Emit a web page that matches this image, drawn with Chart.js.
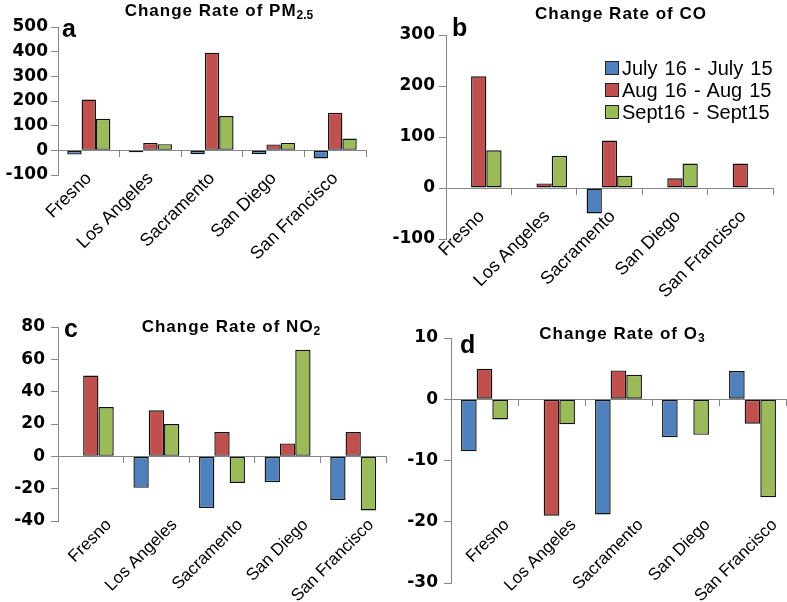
<!DOCTYPE html>
<html>
<head>
<meta charset="utf-8">
<script src="https://cdn.jsdelivr.net/npm/chart.js@4.4.0/dist/chart.umd.min.js"></script>
<style>
  html, body { margin: 0; padding: 0; background: #fff; }
  body { width: 787px; height: 602px; position: relative; overflow: hidden; font-family: "Liberation Sans", Arial, sans-serif; color: #000; }
  .panel { position: absolute; }
  .title { position: absolute; font-weight: bold; font-size: 17px; line-height: 20px; letter-spacing: 1px; white-space: nowrap; transform: translateX(-50%); }
  .title sub { font-size: 12px; line-height: 0; vertical-align: -3px; letter-spacing: 0; }
  .letter { position: absolute; font-weight: bold; font-size: 25px; line-height: 25px; }
  #legend { position: absolute; left: 605px; top: 57px; }
  .lrow { display: flex; align-items: center; height: 22px; font-size: 20px; line-height: 22px; word-spacing: 1.5px; white-space: nowrap; }
  .lbox { width: 14px; height: 14px; border: 1px solid #222; margin-right: 3px; box-sizing: border-box; }
</style>
</head>
<body>
<div class="panel" style="left:0;top:0;width:393px;height:300px"><canvas id="chA"></canvas></div>
<div class="panel" style="left:393px;top:0;width:394px;height:300px"><canvas id="chB"></canvas></div>
<div class="panel" style="left:0;top:300px;width:393px;height:302px"><canvas id="chC"></canvas></div>
<div class="panel" style="left:393px;top:300px;width:394px;height:302px"><canvas id="chD"></canvas></div>

<div class="title" style="left:219px;top:1px">Change Rate of PM<sub>2.5</sub></div>
<div class="title" style="left:621px;top:4px">Change Rate of CO</div>
<div class="title" style="left:231px;top:317px">Change Rate of NO<sub>2</sub></div>
<div class="title" style="left:622px;top:324px">Change Rate of O<sub>3</sub></div>

<div class="letter" style="left:62px;top:16px">a</div>
<div class="letter" style="left:452px;top:15px">b</div>
<div class="letter" style="left:64px;top:316px">c</div>
<div class="letter" style="left:460px;top:332px">d</div>

<div id="legend"></div>

<script>
// ---- data ----
const cities = ['Fresno', 'Los Angeles', 'Sacramento', 'San Diego', 'San Francisco'];
const seriesNames = ['July 16 - July 15', 'Aug 16 - Aug 15', 'Sept16 - Sept15'];
const seriesColors = ['#4F81BD', '#C0504D', '#9BBB59'];

const pm25July = [-17, -8, -16, -16, -33];
const pm25Aug  = [206, 30, 396, 24, 152];
const pm25Sept = [128, 25, 139, 30, 48];
const pm25Ticks = [-100, 0, 100, 200, 300, 400, 500];

const coJuly = [0, 0, -50, 0, 0];
const coAug  = [219, 9, 93, 19, 48];
const coSept = [74, 63, 24, 48, 0];
const coTicks = [-100, 0, 100, 200, 300];

const no2July = [0, -19.5, -32, -16, -27];
const no2Aug  = [50, 28.5, 15, 8, 15];
const no2Sept = [30.5, 20, -16.5, 66, -33.5];
const no2Ticks = [-40, -20, 0, 20, 40, 60, 80];

const o3July = [-8.5, 0, -18.8, -6.2, 4.6];
const o3Aug  = [5, -19, 4.7, 0, -4];
const o3Sept = [-3.3, -4.1, 4, -5.8, -16];
const o3Ticks = [-30, -20, -10, 0, 10];

// ---- chart builder ----
const AXIS_GRAY = '#868686';

function buildChart(canvasId, series, ticks, lay) {
  const datasets = series.map((vals, i) => ({
    label: seriesNames[i],
    data: vals,
    backgroundColor: seriesColors[i],
    borderColor: '#111',
    borderWidth: 1.4,
    borderSkipped: false,
    categoryPercentage: 0.7,
    barPercentage: 1.0
  }));
  return new Chart(document.getElementById(canvasId), {
    type: 'bar',
    data: { labels: cities, datasets },
    options: {
      responsive: true,
      maintainAspectRatio: false,
      animation: false,
      layout: { padding: { left: 0, right: lay.right, top: lay.top, bottom: lay.bottom } },
      plugins: { legend: { display: false }, tooltip: { enabled: false }, title: { display: false } },
      scales: {
        x: {
          type: 'category',
          axis: 'x',
          position: { y: ticks[0] },
          offset: true,
          grid: { display: false, offset: true },
          border: { display: false },
          ticks: {
            autoSkip: false,
            minRotation: 45,
            maxRotation: 45,
            padding: lay.labelPad,
            labelOffset: lay.labelOff,
            color: '#000',
            font: { family: '"Liberation Sans", Arial, sans-serif', size: lay.labelSize }
          }
        },
        x0: {
          type: 'category',
          axis: 'x',
          position: { y: 0 },
          offset: true,
          grid: { display: true, offset: true, drawOnChartArea: false, drawTicks: true, tickLength: 6, color: AXIS_GRAY, lineWidth: 1 },
          border: { display: true, color: AXIS_GRAY, width: 1 },
          ticks: { display: false }
        },
        y: {
          type: 'linear',
          position: 'left',
          min: ticks[0],
          max: ticks[ticks.length - 1],
          grid: { display: true, drawOnChartArea: false, drawTicks: true, tickLength: 7, color: AXIS_GRAY },
          border: { display: true, color: AXIS_GRAY, width: 1 },
          ticks: {
            stepSize: ticks[1] - ticks[0],
            padding: lay.yPad,
            color: '#000',
            font: { family: '"DejaVu Sans", sans-serif', size: 17, weight: 'bold' }
          },
          afterFit: (s) => { s.width = lay.yWidth; }
        }
      }
    }
  });
}

const chA = buildChart('chA', [pm25July, pm25Aug, pm25Sept], pm25Ticks,
  { right: 27, top: 27, bottom: 125, yWidth: 58, yPad: 3, labelPad: -15, labelOff: 0, labelSize: 18 });
const chB = buildChart('chB', [coJuly, coAug, coSept], coTicks,
  { right: 14, top: 35, bottom: 61, yWidth: 53, yPad: 4, labelPad: -41, labelOff: 3, labelSize: 18 });
const chC = buildChart('chC', [no2July, no2Aug, no2Sept], no2Ticks,
  { right: 7, top: 27, bottom: 81, yWidth: 58, yPad: 6, labelPad: -14, labelOff: 18, labelSize: 17 });
const chD = buildChart('chD', [o3July, o3Aug, o3Sept], o3Ticks,
  { right: 1, top: 38, bottom: 19, yWidth: 58, yPad: 6, labelPad: -76, labelOff: 22, labelSize: 17 });

// ---- legend (built from chart b datasets) ----
const legendEl = document.getElementById('legend');
chB.data.datasets.forEach((ds) => {
  const row = document.createElement('div');
  row.className = 'lrow';
  const box = document.createElement('span');
  box.className = 'lbox';
  box.style.background = ds.backgroundColor;
  const txt = document.createElement('span');
  txt.textContent = ds.label;
  row.appendChild(box);
  row.appendChild(txt);
  legendEl.appendChild(row);
});
</script>
</body>
</html>
